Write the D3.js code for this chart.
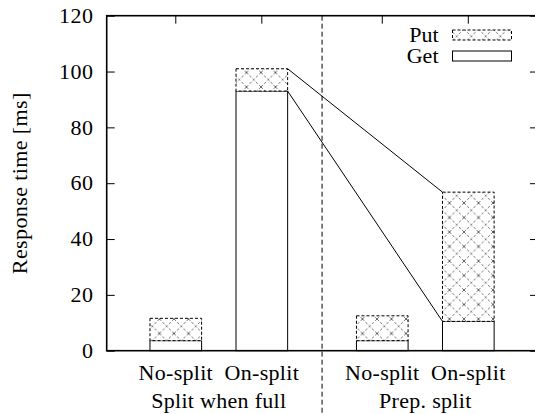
<!DOCTYPE html>
<html>
<head>
<meta charset="utf-8">
<script src="https://cdn.jsdelivr.net/npm/d3@7"></script>
<style>
  body { margin: 0; background: #fff; }
</style>
</head>
<body>
<svg id="chart"></svg>
<script>
// bars, in drawing order
var categories = ["No-split", "On-split", "No-split", "On-split"];
var groupOf    = [0, 0, 1, 1];
var groups     = ["Split when full", "Prep. split"];

// stacked values [ms]
var getValues = [3.6, 93.0, 3.6, 10.5];
var putValues = [8.0, 8.0, 8.9, 46.3];

var yTicks = [0, 20, 40, 60, 80, 100, 120];
var links  = [[1, 3]];   // bar index pairs joined by lines

var w = 535, h = 414;
var mLeft = 106.7, mRight = 538, mTop = 15.7, mBottom = 350.7;
var groupGap = 0.4, barWidth = 0.6;
var fs = 22;
var font = "'Liberation Serif', 'Times New Roman', Times, 'DejaVu Serif', serif";

var svg = d3.select("#chart").attr("width", w).attr("height", h)
    .style("font-family", font);

// crosshatch pattern
var defs = svg.append("defs");
var pat = defs.append("pattern")
    .attr("id", "xhatch")
    .attr("patternUnits", "userSpaceOnUse")
    .attr("width", 14.5).attr("height", 14.5);
pat.append("rect").attr("width", 14.5).attr("height", 14.5).attr("fill", "#fff");
pat.selectAll("line").data([[0, 0, 14.5, 14.5], [0, 14.5, 14.5, 0]]).enter()
    .append("line")
    .attr("x1", d => d[0]).attr("y1", d => d[1])
    .attr("x2", d => d[2]).attr("y2", d => d[3])
    .attr("stroke", "#000").attr("stroke-width", 0.6)
    .attr("stroke-dasharray", "2.5 2");

var xPos = categories.map((c, i) => i + groupOf[i] * groupGap);

var xScale = d3.scaleLinear().domain([-0.803, 4.21]).range([mLeft, mRight]);
var yScale = d3.scaleLinear().domain([0, 120]).range([mBottom, mTop]);

// y ticks left and right, inward
var yAxisLeft = d3.axisRight(yScale).tickValues(yTicks).tickSize(8).tickFormat("");
var yAxisRight = d3.axisLeft(yScale).tickValues(yTicks).tickSize(8).tickFormat("");
svg.append("g").attr("transform", "translate(" + mLeft + ",0)").call(yAxisLeft)
   .call(g => g.select(".domain").remove());
svg.append("g").attr("transform", "translate(" + mRight + ",0)").call(yAxisRight)
   .call(g => g.select(".domain").remove());
svg.selectAll(".tick line").attr("stroke", "#000").attr("stroke-width", 1);

function label(sel) {
    return sel.append("text")
        .style("font-family", font)
        .style("font-size", fs + "px")
        .attr("fill", "#000");
}

// y tick labels
var yl = svg.append("g").selectAll("g").data(yTicks).enter().append("g");
label(yl)
   .attr("x", 93.5)
   .attr("y", d => yScale(d))
   .attr("dy", "0.33em")
   .attr("text-anchor", "end")
   .style("letter-spacing", "0.5px")
   .text(d => d);

// top ticks at bar centres
svg.append("g").selectAll("line").data(xPos).enter()
   .append("line")
   .attr("x1", d => xScale(d)).attr("x2", d => xScale(d))
   .attr("y1", mTop).attr("y2", mTop + 8)
   .attr("stroke", "#000").attr("stroke-width", 1);

// group separator
var sepX = xScale(1 + (1 + groupGap) / 2);
svg.append("line")
   .attr("x1", sepX).attr("x2", sepX)
   .attr("y1", mTop).attr("y2", h)
   .attr("stroke", "#000").attr("stroke-width", 1)
   .attr("stroke-dasharray", "5 3");

var bw = xScale(barWidth) - xScale(0);

// get bars
svg.append("g").selectAll("rect").data(getValues).enter()
   .append("rect")
   .attr("x", (d, i) => xScale(xPos[i]) - bw / 2)
   .attr("y", d => yScale(d))
   .attr("width", bw)
   .attr("height", d => yScale(0) - yScale(d))
   .attr("fill", "#fff").attr("stroke", "#000").attr("stroke-width", 1);

// put bars stacked on get
svg.append("g").selectAll("rect").data(putValues).enter()
   .append("rect")
   .attr("x", (d, i) => xScale(xPos[i]) - bw / 2)
   .attr("y", (d, i) => yScale(getValues[i] + d))
   .attr("width", bw)
   .attr("height", (d, i) => yScale(getValues[i]) - yScale(getValues[i] + d))
   .attr("fill", "url(#xhatch)").attr("stroke", "#000").attr("stroke-width", 1)
   .attr("stroke-dasharray", "3 2");

// connecting lines between bar tops
links.forEach(function(l) {
    var a = l[0], b = l[1];
    var levels = [[getValues[a] + putValues[a], getValues[b] + putValues[b]],
                  [getValues[a], getValues[b]]];
    levels.forEach(function(v) {
        svg.append("line")
           .attr("x1", xScale(xPos[a]) + bw / 2).attr("y1", yScale(v[0]))
           .attr("x2", xScale(xPos[b]) - bw / 2).attr("y2", yScale(v[1]))
           .attr("stroke", "#000").attr("stroke-width", 1);
    });
});

// frame
svg.append("rect")
   .attr("x", mLeft).attr("y", mTop)
   .attr("width", mRight - mLeft).attr("height", mBottom - mTop)
   .attr("fill", "none").attr("stroke", "#000").attr("stroke-width", 1.6);

// x labels
var xl = svg.append("g").selectAll("g").data(categories).enter().append("g");
label(xl)
   .attr("x", (d, i) => xScale(xPos[i]))
   .attr("y", 380)
   .attr("text-anchor", "middle")
   .style("letter-spacing", "0.3px")
   .text(d => d);

var gl = svg.append("g").selectAll("g").data(groups).enter().append("g");
label(gl)
   .attr("x", (d, g) => {
       var idx = xPos.filter((p, i) => groupOf[i] === g);
       return xScale(d3.mean(idx));
   })
   .attr("y", 407.5)
   .attr("text-anchor", "middle")
   .style("letter-spacing", "0.3px")
   .text(d => d);

// y axis title
label(svg)
   .attr("transform", "translate(27," + ((mTop + mBottom) / 2) + ") rotate(-90)")
   .attr("text-anchor", "middle")
   .style("letter-spacing", "0.4px")
   .text("Response time [ms]");

// legend
var legend = [
    {name: "Put", fill: "url(#xhatch)", dash: "3 2", y: 30},
    {name: "Get", fill: "#fff", dash: null, y: 51}
];
var lg = svg.append("g").selectAll("g").data(legend).enter().append("g");
label(lg)
  .attr("x", 438.5)
  .attr("y", d => d.y + 11.5)
  .attr("text-anchor", "end")
  .text(d => d.name);
lg.append("rect")
  .attr("x", 452.5).attr("y", d => d.y)
  .attr("width", 59).attr("height", 10)
  .attr("fill", d => d.fill)
  .attr("stroke", "#000").attr("stroke-width", 1)
  .attr("stroke-dasharray", d => d.dash);
</script>
</body>
</html>
